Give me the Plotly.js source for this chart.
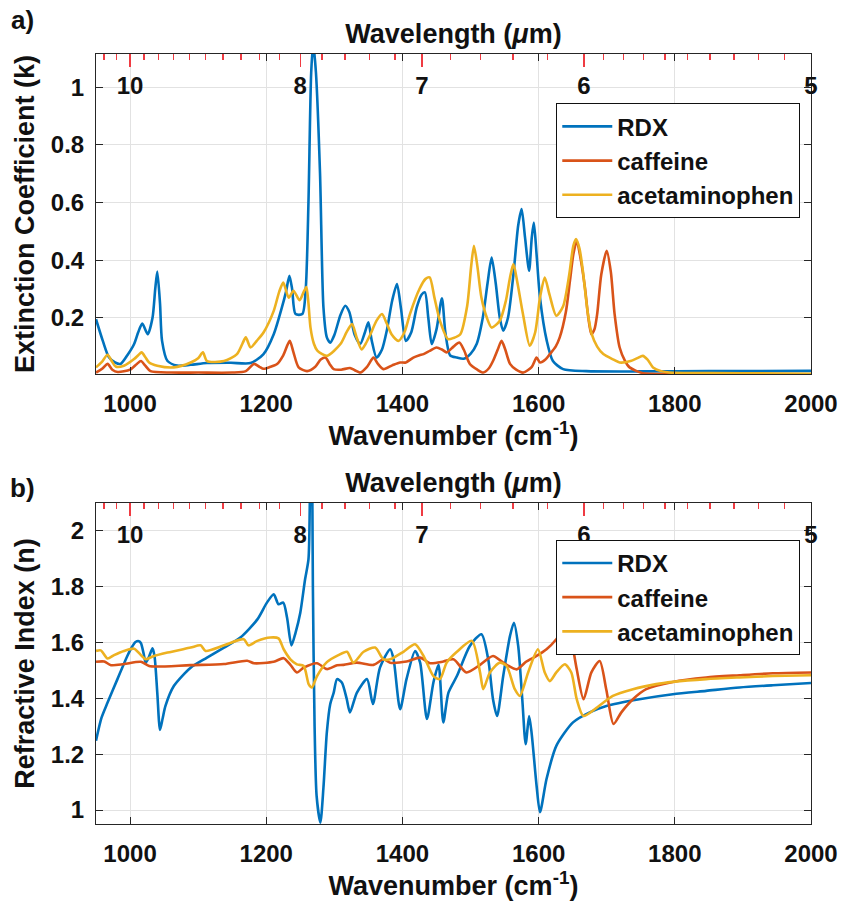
<!DOCTYPE html>
<html>
<head>
<meta charset="utf-8">
<script src="https://cdn.plot.ly/plotly-3.0.1.min.js"></script>
<style>html,body{margin:0;padding:0;background:#fff;}#chart{width:845px;height:903px;}</style>
</head>
<body>
<div id="chart"></div>
<script>
// ---------- (a) extinction coefficient k ----------
const rdxKWn = [950,960,969,978,986,996,1006,1012,1018,1026,1033,1037,1040,1044,1047,1055,1069,1089,1113,1148,1177,1196,1211,1223,1229,1234,1238,1243,1253,1258,1262,1266,1269,1273,1279,1284,1289,1294,1300,1309,1316,1322,1330,1338,1345,1350,1355,1362,1370,1377,1385,1392,1398,1405,1413,1421,1428,1433,1438,1443,1450,1458,1463,1470,1480,1490,1500,1509,1518,1525,1531,1537,1543,1548,1555,1563,1570,1575,1580,1586,1590,1593,1597,1602,1612,1621,1636,1670,1750,1850,2000];
const rdxK   = [0.195,0.12,0.063,0.045,0.04,0.07,0.109,0.15,0.18,0.143,0.2,0.3,0.36,0.25,0.12,0.05,0.034,0.037,0.043,0.044,0.043,0.074,0.143,0.236,0.29,0.346,0.3,0.213,0.213,0.3,0.6,1.05,1.15,1.05,0.7,0.236,0.132,0.114,0.14,0.21,0.242,0.22,0.14,0.109,0.15,0.184,0.12,0.062,0.09,0.155,0.26,0.317,0.23,0.12,0.15,0.236,0.28,0.288,0.2,0.109,0.16,0.268,0.15,0.07,0.062,0.058,0.075,0.109,0.2,0.32,0.409,0.32,0.2,0.155,0.2,0.35,0.52,0.577,0.48,0.363,0.48,0.53,0.42,0.27,0.12,0.05,0.022,0.015,0.014,0.015,0.016];

const cafKWn = [950,960,967,974,982,1000,1010,1016,1022,1030,1060,1100,1150,1170,1182,1190,1196,1206,1216,1225,1234.5,1240,1247.6,1260,1272,1280,1287,1293,1299,1310,1323,1330,1338,1348,1357.5,1364,1372,1385,1396.6,1405,1416,1425,1431,1440,1450,1458,1465,1475,1483.5,1490,1499,1510,1518.7,1527,1533,1540,1545.6,1551,1558,1567,1577.6,1590,1597,1602,1610,1616.5,1625,1631,1640,1646,1651,1656,1662,1668,1673,1677.5,1682,1686,1692,1700,1706,1711.6,1719,1727,1733.6,1753,1800,1900,2000];
const cafK   = [0.01,0.025,0.04,0.02,0.012,0.02,0.04,0.05,0.035,0.015,0.01,0.01,0.01,0.015,0.04,0.03,0.023,0.03,0.04,0.07,0.12,0.08,0.028,0.015,0.03,0.055,0.062,0.04,0.022,0.02,0.026,0.018,0.01,0.03,0.062,0.04,0.022,0.035,0.045,0.045,0.062,0.07,0.074,0.085,0.097,0.09,0.08,0.1,0.114,0.09,0.04,0.02,0.01,0.025,0.05,0.09,0.12,0.09,0.04,0.02,0.01,0.03,0.062,0.045,0.055,0.074,0.1,0.132,0.22,0.328,0.42,0.467,0.4,0.305,0.2,0.143,0.16,0.213,0.35,0.432,0.36,0.213,0.097,0.05,0.028,0.008,0.005,0.005,0.004];

const aceKWn = [950,958,967,973,979,991,1006,1012,1017,1022,1028,1040,1064,1089,1100,1107,1113,1138,1157,1165,1170,1177,1186,1196,1211,1219,1225,1233,1240,1249,1255,1259,1262,1265,1270,1275,1289,1309,1318,1326,1333,1340,1346,1353,1362,1370,1377,1384,1394,1403,1411,1425,1434,1440,1447,1455,1467,1475,1485,1495,1501,1505,1510,1516,1524,1531,1543,1552,1558,1563,1569,1577,1587,1595,1602,1609,1616,1626,1636,1645,1651,1655,1660,1665,1672,1678,1686,1695,1710,1719,1735,1745,1753,1760,1768,1780,1792,1850,1950,2000];
const aceK   = [0.028,0.045,0.072,0.05,0.031,0.034,0.057,0.07,0.08,0.065,0.045,0.034,0.028,0.045,0.06,0.08,0.05,0.05,0.074,0.11,0.132,0.097,0.12,0.149,0.224,0.29,0.322,0.27,0.294,0.261,0.29,0.307,0.25,0.166,0.11,0.086,0.068,0.109,0.15,0.178,0.13,0.09,0.11,0.143,0.19,0.213,0.18,0.143,0.12,0.15,0.213,0.3,0.335,0.34,0.27,0.19,0.126,0.13,0.143,0.24,0.38,0.45,0.38,0.27,0.2,0.166,0.19,0.26,0.34,0.386,0.32,0.213,0.103,0.15,0.27,0.34,0.28,0.207,0.24,0.35,0.45,0.473,0.44,0.363,0.22,0.143,0.1,0.074,0.055,0.045,0.05,0.06,0.068,0.055,0.028,0.015,0.01,0.008,0.007,0.006];

// ---------- (b) refractive index n ----------
const rdxNWn = [950,958,967,981.5,996,1003,1008,1013,1016,1020,1023,1028,1033,1036,1040,1044,1048,1052,1064.5,1089,1113,1138,1162,1187,1201,1211,1218,1225,1230.6,1237,1243,1250,1257,1262,1264,1266.5,1268.5,1271,1274,1279.5,1284,1289,1294,1299,1304,1311,1318,1323,1333,1348,1356.6,1367,1382,1387,1396.6,1406,1418.6,1426,1436,1445.5,1453,1460,1467.5,1480,1499,1516,1526,1533,1539,1548,1558,1563.7,1570,1576,1581,1586,1589.6,1597,1602,1611.6,1626,1650.5,1675,1699.5,1748,1797,1846,1895,1944,2000];
const rdxN   = [1.248,1.33,1.385,1.469,1.552,1.585,1.602,1.605,1.598,1.56,1.528,1.55,1.579,1.55,1.42,1.287,1.33,1.373,1.445,1.51,1.546,1.582,1.618,1.683,1.743,1.773,1.737,1.743,1.689,1.59,1.635,1.707,1.826,1.898,2.1,2.5,1.8,1.3,1.05,0.955,1.08,1.278,1.38,1.42,1.469,1.457,1.4,1.35,1.42,1.469,1.38,1.51,1.576,1.54,1.361,1.469,1.57,1.528,1.326,1.457,1.52,1.314,1.42,1.48,1.588,1.63,1.54,1.397,1.337,1.48,1.624,1.671,1.588,1.397,1.236,1.337,1.278,1.087,0.992,1.111,1.23,1.314,1.35,1.373,1.397,1.415,1.427,1.439,1.447,1.455];

const cafNWn = [950,962,972,991,1016,1028,1040,1089,1138,1172,1182,1211,1225.6,1235.5,1245,1255,1274.6,1289,1304,1313.6,1333,1357.5,1372,1382,1406,1426,1440.6,1460,1475,1494,1514,1533,1548,1567.6,1582,1597,1611.6,1626,1636,1643,1648,1656,1666,1677.5,1689.7,1699.5,1710,1721.5,1738.5,1758,1797,1846,1895,1944,2000];
const cafN   = [1.531,1.532,1.519,1.523,1.531,1.516,1.514,1.519,1.523,1.535,1.526,1.531,1.544,1.52,1.493,1.51,1.526,1.505,1.519,1.52,1.528,1.52,1.54,1.528,1.532,1.546,1.526,1.532,1.54,1.493,1.52,1.552,1.528,1.504,1.532,1.552,1.576,1.612,1.648,1.7,1.62,1.504,1.397,1.493,1.534,1.43,1.308,1.35,1.397,1.433,1.459,1.475,1.483,1.49,1.493];

const aceNWn = [950,957,967,976.5,991,1006,1016,1023,1033,1055,1089,1103.6,1111,1138,1167,1174,1187,1206,1218,1225.6,1235.5,1245,1255,1262.5,1267,1274.6,1289,1306,1318.5,1328,1343,1360,1372,1382,1401.5,1418.6,1431,1445.5,1455,1465,1480,1502,1514,1518.7,1528.5,1543,1553,1565,1572.5,1584.6,1599,1609,1616.5,1626,1638.5,1648,1656,1665.8,1685,1709,1738.5,1772.7,1797,1846,1895,1944,2000];
const aceN   = [1.57,1.572,1.543,1.555,1.57,1.578,1.555,1.54,1.55,1.564,1.582,1.59,1.57,1.59,1.612,1.59,1.606,1.618,1.615,1.576,1.54,1.522,1.516,1.45,1.439,1.48,1.53,1.555,1.567,1.528,1.567,1.582,1.54,1.54,1.567,1.594,1.552,1.48,1.469,1.528,1.567,1.606,1.493,1.433,1.493,1.528,1.516,1.433,1.409,1.493,1.576,1.493,1.462,1.493,1.522,1.493,1.397,1.337,1.366,1.409,1.433,1.451,1.459,1.469,1.475,1.48,1.483];

// ---------- labels ----------
const seriesNames = ['RDX','caffeine','acetaminophen'];
const seriesColors = ['#0072BD','#D95319','#EDB120'];
const wnTicks = [1000,1200,1400,1600,1800,2000];
const kTicks = [0.2,0.4,0.6,0.8,1];
const kTickText = ['0.2','0.4','0.6','0.8','1'];
const nTicks = [1,1.2,1.4,1.6,1.8,2];
const nTickText = ['1','1.2','1.4','1.6','1.8','2'];
const wlMajor = [10,8,7,6,5];
const wlMajorText = ['10','8','7','6','5'];
const wlMinor = [10.4,10.2,9.8,9.6,9.4,9.2,9.0,8.8,8.6,8.4,8.2,7.8,7.6,7.4,7.2,6.8,6.6,6.4,6.2,5.9,5.8,5.7,5.6,5.5,5.4,5.3,5.2,5.1];

// wavelength (um) -> wavenumber (cm^-1) for tick placement on the top axis
const toWn = l => 10000 / l;

const FONT = 'Liberation Sans, Arial, Helvetica, sans-serif';
const tickFont = {family: FONT, size: 24, color: '#111', weight: 'bold'};
const titleFont = {family: FONT, size: 27, color: '#111', weight: 'bold'};
const axisCol = '#262626';
const gridCol = '#e2e2e2';
const red = '#ef3b42';

function line(x, y, i, xa, ya, lg) {
  return {x: x, y: y, type: 'scatter', mode: 'lines', name: seriesNames[i],
    xaxis: xa, yaxis: ya, legend: lg,
    line: {color: seriesColors[i], width: 2.6, shape: 'spline', smoothing: 0.7},
    hoverinfo: 'skip'};
}

// acetaminophen (drawn last, on top) sits on the wavelength overlay axis, which has the same wavenumber range
const data = [
  line(rdxKWn, rdxK, 0, 'x', 'y', 'legend'),
  line(cafKWn, cafK, 1, 'x', 'y', 'legend'),
  line(aceKWn, aceK, 2, 'x2', 'y', 'legend'),
  line(rdxNWn, rdxN, 0, 'x3', 'y2', 'legend2'),
  line(cafNWn, cafN, 1, 'x3', 'y2', 'legend2'),
  line(aceNWn, aceN, 2, 'x4', 'y2', 'legend2')
];

function wnAxis(anchor) {
  return {anchor: anchor, range: [950, 2000], tickvals: wnTicks, ticktext: wnTicks.map(String),
    ticks: 'inside', ticklen: 7, tickcolor: axisCol, tickwidth: 1,
    showline: true, linecolor: axisCol, linewidth: 1, mirror: 'ticks',
    showgrid: true, gridcolor: gridCol, gridwidth: 1, zeroline: false,
    tickfont: tickFont, ticklabelstandoff: 8,
    title: {text: 'Wavenumber (cm<sup>-1</sup>)', font: titleFont, standoff: 6}};
}
function wlAxis(over, anchor) {
  return {overlaying: over, anchor: anchor, side: 'top', range: [950, 2000],
    tickmode: 'array', tickvals: wlMajor.map(toWn), ticktext: wlMajorText,
    ticks: 'inside', ticklen: 13, tickcolor: red, tickwidth: 1.3,
    ticklabelposition: 'inside', ticklabeloverflow: 'allow', ticklabelstandoff: 12,
    minor: {tickmode: 'array', tickvals: wlMinor.map(toWn), ticks: 'inside', ticklen: 6, tickcolor: red, tickwidth: 1.3, showgrid: false},
    showline: false, showgrid: false, zeroline: false,
    tickfont: tickFont,
    title: {text: 'Wavelength (<i>μ</i>m)', font: titleFont, standoff: 20}};
}
function valAxis(anchor, domain, range, tv, tt, title) {
  return {anchor: anchor, domain: domain, range: range, tickvals: tv, ticktext: tt,
    ticks: 'inside', ticklen: 7, tickcolor: axisCol, tickwidth: 1,
    showline: true, linecolor: axisCol, linewidth: 1, mirror: 'ticks',
    showgrid: true, gridcolor: gridCol, gridwidth: 1, zeroline: false,
    tickfont: tickFont, ticklabelstandoff: 6,
    title: {text: title, font: titleFont, standoff: 8}};
}
function legendBox(y) {
  return {x: 0.985, xanchor: 'right', y: y, yanchor: 'top',
    bgcolor: '#ffffff', bordercolor: '#111', borderwidth: 1,
    font: {family: FONT, size: 24, color: '#111', weight: 'bold'},
    itemwidth: 50, tracegroupgap: 0, itemclick: false};
}

const layout = {
  width: 845, height: 903,
  margin: {l: 96, r: 34, t: 54, b: 79},
  paper_bgcolor: '#ffffff', plot_bgcolor: '#ffffff',
  showlegend: true,
  xaxis: wnAxis('y'),
  xaxis2: wlAxis('x', 'y'),
  yaxis: valAxis('x', [0.5844, 1], [0.005, 1.115], kTicks, kTickText, 'Extinction Coefficient (k)'),
  xaxis3: wnAxis('y2'),
  xaxis4: wlAxis('x3', 'y2'),
  yaxis2: valAxis('x3', [0, 0.4169], [0.95, 2.1], nTicks, nTickText, 'Refractive Index (n)'),
  legend: legendBox(0.936),
  legend2: legendBox(0.369),
  annotations: [
    {text: 'a)', xref: 'paper', yref: 'paper', x: -0.103, y: 1.044, showarrow: false,
     font: {family: FONT, size: 26, color: '#111', weight: 'bold'}, xanchor: 'center', yanchor: 'middle'},
    {text: 'b)', xref: 'paper', yref: 'paper', x: -0.103, y: 0.436, showarrow: false,
     font: {family: FONT, size: 26, color: '#111', weight: 'bold'}, xanchor: 'center', yanchor: 'middle'}
  ]
};

Plotly.newPlot('chart', data, layout, {staticPlot: true, displayModeBar: false});
</script>
</body>
</html>
